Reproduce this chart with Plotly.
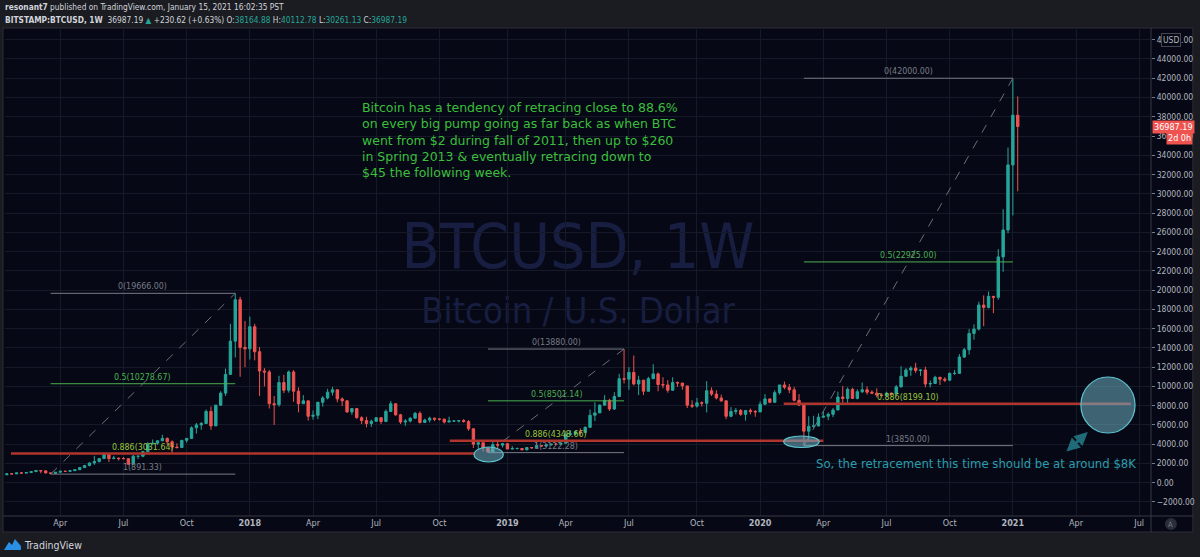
import pandas as pd
import plotly.graph_objects as go

# weekly BITSTAMP:BTCUSD candles, first bar = week of 2017-01-16
first_week = "2017-01-16"
first_open = 820.0

close_2017 = [921, 915, 1016, 998, 1050, 1150, 1270, 1230, 1020, 965, 1090, 1190, 1180, 1245, 1350,
              1570, 1780, 2050, 2200, 2510, 2950, 2500, 2550, 2500, 2500, 1920, 2750, 2750, 3230,
              4050, 4100, 4350, 4600, 4250, 3700, 3650, 4400, 4600, 5700, 6000, 6150, 7400, 5900,
              8050, 9300, 11250, 14700, 19000, 14050, 13900]
high_2017 = [935, 925, 1025, 1065, 1060, 1210, 1290, 1300, 1250, 1060, 1100, 1200, 1210, 1260, 1360,
             1600, 1850, 2100, 2790, 2550, 2980, 2990, 2780, 2600, 2650, 2550, 2900, 2800, 3300,
             4200, 4480, 4400, 4980, 4700, 4400, 4100, 4420, 4620, 5850, 6200, 6300, 7600, 7900,
             8100, 9500, 11850, 16500, 19666, 19300, 16800]
low_2017 = [818, 880, 913, 940, 990, 1050, 1150, 980, 940, 891.33, 920, 1070, 1150, 1180, 1240,
            1340, 1530, 1700, 1850, 2100, 2450, 2150, 2450, 2300, 2470, 1850, 1900, 2450, 2650,
            3200, 3950, 3950, 4300, 3950, 2970, 3550, 3650, 4150, 4550, 5100, 5500, 6100, 5500,
            5900, 8000, 9000, 11200, 13000, 11000, 12000]

close_2018 = [16200, 13600, 11600, 11500, 8200, 8100, 10400, 9600, 11500, 9500, 8200, 8500, 6900,
              7000, 8350, 8800, 9400, 9650, 8700, 8500, 7350, 7700, 6750, 6450, 6150, 6380,
              6750, 6350, 7400, 8200, 7050, 6300, 6400, 6700, 7200, 6250, 6500, 6700, 6600,
              6600, 6300, 6400, 6400, 6450, 6350, 5600, 4000, 4150, 3600, 3200, 3950, 3900, 4050]
high_2018 = [17250, 16500, 14100, 11900, 11700, 9000, 11100, 11200, 11650, 11700, 9900, 9100, 8500,
             7500, 8400, 9000, 9750, 9950, 9650, 8850, 8550, 7750, 7750, 6900, 6850, 6550,
             6800, 6800, 7600, 8500, 8250, 7150, 6600, 6800, 7350, 7400, 6650, 6850, 6750,
             6650, 6650, 6850, 6500, 6500, 6600, 6500, 5600, 4400, 4150, 3600, 4250, 4250, 4100]
low_2018 = [12800, 12700, 9000, 10000, 7700, 6000, 7900, 9300, 9350, 8400, 7300, 8200, 6450,
            6550, 6600, 7900, 8650, 9050, 8350, 7950, 7250, 7050, 6650, 6100, 5750, 5800,
            6350, 6100, 6350, 7400, 6950, 6100, 5900, 6250, 6700, 6150, 6200, 6250, 6400,
            6450, 6150, 6300, 6300, 6250, 6250, 5400, 3600, 3500, 3250, 3122.28, 3150, 3550, 3650]

close_2019 = [3500, 3550, 3550, 3420, 3650, 3620, 3850, 3820, 3930, 4000, 3990, 4100, 5050, 5050,
              5300, 5200, 5750, 7000, 7250, 8050, 8550, 7650, 8950, 10800, 10750, 11450, 10250,
              10650, 9500, 10800, 11300, 10200, 10150, 9600, 10400, 10350, 10050, 8050, 7950,
              8300, 8250, 9550, 9200, 8800, 8500, 6900, 7400, 7500, 7100, 7500, 7400, 7350]
high_2019 = [4100, 3800, 3650, 3550, 3700, 3700, 4200, 3900, 3950, 4050, 4100, 4150, 5350, 5450,
             5400, 5650, 5850, 7600, 8350, 8150, 9100, 8700, 9400, 11300, 13880, 12000, 13200,
             11100, 10650, 11000, 12300, 11450, 10950, 10650, 10950, 10500, 10350, 10050, 8550,
             8800, 8450, 10550, 9900, 9600, 9150, 8550, 7850, 7750, 7650, 7550, 7700, 7550]
low_2019 = [3500, 3450, 3450, 3350, 3350, 3550, 3600, 3700, 3700, 3850, 3900, 3900, 4100, 4900,
            4950, 4900, 5150, 5700, 6400, 7500, 8000, 7450, 7550, 8950, 10300, 9650, 10100,
            9100, 9100, 9450, 11100, 9500, 9800, 9350, 9750, 9950, 9650, 7750, 7750,
            7800, 7900, 7300, 9000, 8650, 8400, 6600, 6800, 7100, 6950, 6450, 7100, 6850]

close_2020 = [8150, 8700, 8350, 9350, 10150, 9900, 9650, 8550, 8050, 5350, 5850, 5900, 6800, 6900,
              7100, 7550, 8900, 8750, 9700, 8750, 9450, 9650, 9400, 9300, 9100, 9050, 9300, 9200,
              9950, 11050, 11700, 11900, 11650, 11700, 10250, 10300, 10950, 10750, 10650, 11350,
              11350, 13050, 13800, 15500, 15950, 18450, 18200, 19350, 19250, 23450, 26250, 33000]
high_2020 = [8450, 9200, 8750, 9600, 10150, 10500, 10250, 9950, 9200, 8150, 6900, 6950, 7200, 7450,
             7300, 7750, 9450, 10050, 9900, 9850, 9700, 10400, 10000, 9600, 9800, 9300, 9450, 9350,
             10150, 12100, 11900, 12100, 12450, 11800, 12050, 10600, 11100, 10950, 10950, 11450,
             11700, 13350, 14000, 15950, 16450, 18800, 19450, 19850, 19400, 24250, 28400, 34800]
low_2020 = [7350, 8050, 8250, 8300, 9150, 9700, 9300, 8450, 8000, 3850, 4450, 5700, 5850, 6750,
            6500, 6800, 7650, 8100, 8200, 8700, 8650, 9300, 9150, 9200, 8850, 8950, 9050, 9050,
            9150, 9900, 11050, 11100, 11400, 11100, 9900, 9900, 10250, 10150, 10450, 10550,
            11200, 11400, 12950, 13300, 14850, 15800, 16250, 18100, 17600, 19000, 21900, 25900]

close_2021 = [38164.88, 36987.19]
high_2021 = [41950, 40112.78]
low_2021 = [27750, 30261.13]

close = close_2017 + close_2018 + close_2019 + close_2020 + close_2021
high = high_2017 + high_2018 + high_2019 + high_2020 + high_2021
low = low_2017 + low_2018 + low_2019 + low_2020 + low_2021
opens = [first_open] + close[:-1]
weeks = pd.date_range(first_week, periods=len(close), freq="7D")

# fib retracements: (start week, end week, low, high)
fibs = [
    ("2017-03-20", "2017-12-11", 891.33, 19666.00),
    ("2018-12-10", "2019-06-24", 3122.28, 13880.00),
    ("2020-03-09", "2021-01-04", 3850.00, 42000.00),
]
fib_levels = [0, 0.5, 0.886, 1]
fib_colors = {0: "#787b86", 0.5: "#4caf50", 0.886: "#9cc43c", 1: "#787b86"}

# red support lines drawn at the 0.886 levels
support_spans = [("2017-01-22", "2018-11-21"), ("2018-10-16", "2020-04-06"), ("2020-02-09", "2021-06-23")]

x_tick_dates = ["2017-04-03", "2017-07-03", "2017-10-02", "2018-01-01", "2018-04-02", "2018-07-02",
                "2018-10-01", "2019-01-07", "2019-04-01", "2019-07-01", "2019-10-07", "2020-01-06",
                "2020-04-06", "2020-07-06", "2020-10-05", "2021-01-04", "2021-04-05", "2021-07-05"]
x_tick_text = ["Apr", "Jul", "Oct", "<b>2018</b>", "Apr", "Jul", "Oct", "<b>2019</b>", "Apr", "Jul",
               "Oct", "<b>2020</b>", "Apr", "Jul", "Oct", "<b>2021</b>", "Apr", "Jul"]

note_text = ("Bitcoin has a tendency of retracing close to 88.6%<br>"
             "on every big pump going as far back as when BTC<br>"
             "went from $2 during fall of 2011, then up to $260<br>"
             "in Spring 2013 &amp; eventually retracing down to<br>"
             "$45 the following week.")
target_text = "So, the retracement this time should be at around $8K"

# ---- layout geometry (pixels of the 1200x557 picture) ----
W, H = 1200, 557
L_PX, R_PX, T_PX, B_PX = 5, 1155, 28, 516
DAY_PX = 0.6967
ANCHOR_DATE, ANCHOR_PX = pd.Timestamp("2018-01-01"), 250.7
USD_PX, ZERO_PX = 0.00963, 482.7

x_range = [ANCHOR_DATE + pd.Timedelta(days=(L_PX - ANCHOR_PX) / DAY_PX),
           ANCHOR_DATE + pd.Timedelta(days=(R_PX - ANCHOR_PX) / DAY_PX)]
y_range = [(ZERO_PX - B_PX) / USD_PX, (ZERO_PX - T_PX) / USD_PX]


def xp(px):
    return (px - L_PX) / (R_PX - L_PX)


def yp(py):
    return (B_PX - py) / (B_PX - T_PX)


BG = "#060915"
PAPER = "#1b1c21"
GRID = "#161a28"
AXIS_TXT = "#b2b5be"
UP, DOWN = "#26a69a", "#ef5350"
NARROW = "DejaVu Sans Condensed, Liberation Sans Narrow, Roboto"

fig = go.Figure()
fig.add_trace(go.Candlestick(
    x=weeks, open=opens, high=high, low=low, close=close,
    increasing=dict(line=dict(color=UP, width=1), fillcolor=UP),
    decreasing=dict(line=dict(color=DOWN, width=1), fillcolor=DOWN),
    whiskerwidth=0, showlegend=False, hoverinfo="skip",
))

shapes = []
annotations = []

# chart panel background + frame
shapes.append(dict(type="rect", xref="paper", yref="paper", x0=xp(3), x1=xp(1197), y0=yp(532), y1=yp(T_PX),
                   fillcolor=BG, line=dict(color="#2a2e39", width=1), layer="below"))
# watermark
shapes.append(dict(type="rect", xref="paper", yref="paper", x0=xp(330), x1=xp(830), y0=yp(275), y1=yp(210),
                   line=dict(width=0), fillcolor="rgba(0,0,0,0)", layer="below",
                   label=dict(text="BTCUSD, 1W", font=dict(family=NARROW, size=62, color="#181e42"),
                              textposition="middle center")))
shapes.append(dict(type="rect", xref="paper", yref="paper", x0=xp(330), x1=xp(830), y0=yp(325), y1=yp(290),
                   line=dict(width=0), fillcolor="rgba(0,0,0,0)", layer="below",
                   label=dict(text="Bitcoin / U.S. Dollar", font=dict(family=NARROW, size=36, color="#181e42"),
                              textposition="middle center")))
# axis column lines
shapes.append(dict(type="line", xref="paper", yref="paper", x0=xp(3), x1=xp(1197), y0=yp(B_PX), y1=yp(B_PX),
                   line=dict(color="#363a45", width=1)))
shapes.append(dict(type="line", xref="paper", yref="paper", x0=1, x1=1, y0=yp(532), y1=yp(T_PX),
                   line=dict(color="#363a45", width=1)))

# fib retracements
for start, end, lo, hi in fibs:
    mid = pd.Timestamp(start) + (pd.Timestamp(end) - pd.Timestamp(start)) / 2
    shapes.append(dict(type="line", x0=start, x1=end, y0=lo, y1=hi,
                       line=dict(color="#6b6e78", width=1, dash="dash")))
    for lv in fib_levels:
        price = hi - lv * (hi - lo)
        shapes.append(dict(type="line", x0=start, x1=end, y0=price, y1=price,
                           line=dict(color=fib_colors[lv], width=1)))
        annotations.append(dict(x=mid, y=price, text=f"{lv:g}({price:.2f})", showarrow=False,
                                xanchor="center", yanchor="bottom",
                                font=dict(family=NARROW, size=8.8, color=fib_colors[lv])))

# red support lines
for (x0, x1), (start, end, lo, hi) in zip(support_spans, fibs):
    price = hi - 0.886 * (hi - lo)
    shapes.append(dict(type="line", x0=x0, x1=x1, y0=price, y1=price,
                       line=dict(color="#b0352c", width=2.5)))

# highlight ellipses
ellipse_style = dict(type="circle", fillcolor="rgba(110,175,195,0.55)", line=dict(color="#5cc3cf", width=1.2))
shapes.append(dict(x0="2018-11-20", x1="2019-01-01", y0=2150, y1=3707, **ellipse_style))
shapes.append(dict(x0="2020-02-09", x1="2020-03-31", y0=3655, y1=4850, **ellipse_style))
shapes.append(dict(x0="2021-04-12", x1="2021-06-29", y0=5161, y1=10976, **ellipse_style))

# double-headed arrow towards the target circle
annotations.append(dict(x="2021-04-22", y=5265, ax="2021-03-20", ay=3084, axref="x", ayref="y",
                        text="", showarrow=True, arrowhead=2, arrowside="end+start",
                        arrowsize=0.9, arrowwidth=3, arrowcolor="#1f6b78"))

# notes
annotations.append(dict(xref="paper", yref="paper", x=xp(361), y=yp(98), xanchor="left", yanchor="top",
                        align="left", text=note_text, showarrow=False,
                        font=dict(family="DejaVu Sans", size=12.5, color="#3bbf3b")))
annotations.append(dict(xref="paper", yref="paper", x=xp(817), y=yp(463), xanchor="left", yanchor="middle",
                        text=target_text, showarrow=False,
                        font=dict(family=NARROW, size=13, color="#2b9dac")))

# header
last_o, last_h, last_l, last_c = opens[-1], high[-1], low[-1], close[-1]
chg = 230.62
hdr1 = "<b>resonant7</b> published on TradingView.com, January 15, 2021 16:02:35 PST"
tc = f"<span style='color:{UP}'>"
hdr2 = (f"<b>BITSTAMP:BTCUSD, 1W</b>  {last_c:.2f} {tc}▲</span> +{chg:.2f} (+{chg / (last_c - chg) * 100:.2f}%) "
        f"O:{tc}{last_o:.2f}</span> H:{tc}{last_h:.2f}</span> L:{tc}{last_l:.2f}</span> C:{tc}{last_c:.2f}</span>")
annotations.append(dict(xref="paper", yref="paper", x=xp(3), y=yp(7.5), xanchor="left", yanchor="middle",
                        text=hdr1, showarrow=False, font=dict(family=NARROW, size=8.3, color="#d1d4dc")))
annotations.append(dict(xref="paper", yref="paper", x=xp(3), y=yp(19.5), xanchor="left", yanchor="middle",
                        text=hdr2, showarrow=False, font=dict(family=NARROW, size=8.3, color="#d1d4dc")))

# price scale extras
annotations.append(dict(xref="paper", yref="y", x=1, y=last_c, xanchor="left", yanchor="middle", xshift=1,
                        text=f"{last_c:.2f}", showarrow=False, bgcolor=DOWN, borderpad=1,
                        font=dict(family=NARROW, size=9, color="#ffffff")))
annotations.append(dict(xref="paper", yref="y", x=xp(1170), y=last_c, xanchor="left", yanchor="middle",
                        yshift=-11, text="2d 0h", showarrow=False, bgcolor=DOWN, borderpad=1,
                        font=dict(family=NARROW, size=9, color="#ffffff")))
annotations.append(dict(xref="paper", yref="paper", x=xp(1175), y=yp(39.5), xanchor="center", yanchor="middle",
                        text="USD", showarrow=False,
                        bgcolor=BG, bordercolor="#434651", borderwidth=1, borderpad=1,
                        font=dict(family=NARROW, size=8.5, color=AXIS_TXT)))
shapes.append(dict(type="circle", xref="paper", yref="paper", x0=xp(1169), x1=xp(1181), y0=yp(530), y1=yp(518),
                   fillcolor="#2a2e39", line=dict(width=0)))
annotations.append(dict(xref="paper", yref="paper", x=xp(1175), y=yp(524), xanchor="center", yanchor="middle",
                        text="A", showarrow=False,
                        font=dict(family=NARROW, size=7.5, color="#787b86")))

# TradingView logo
logo = "M {} {} L {} {} L {} {} L {} {} L {} {} L {} {} Z".format(
    xp(4), yp(550), xp(9), yp(542), xp(12), yp(545), xp(15), yp(539), xp(21), yp(546), xp(21), yp(550))
shapes.append(dict(type="path", xref="paper", yref="paper", path=logo, fillcolor="#2a8fe6", line=dict(width=0)))
annotations.append(dict(xref="paper", yref="paper", x=xp(22), y=yp(545), xanchor="left", yanchor="middle",
                        text="TradingView", showarrow=False,
                        font=dict(family=NARROW, size=10.5, color="#d1d4dc")))

fig.update_layout(
    width=W, height=H, autosize=False,
    margin=dict(l=L_PX, r=W - R_PX, t=T_PX, b=H - B_PX),
    paper_bgcolor=PAPER, plot_bgcolor=BG,
    shapes=shapes, annotations=annotations,
    showlegend=False, hovermode=False,
    xaxis=dict(type="date", range=x_range, rangeslider=dict(visible=False),
               tickvals=x_tick_dates, ticktext=x_tick_text, showgrid=True, gridcolor=GRID,
               showline=False, zeroline=False, ticks="",
               tickfont=dict(family=NARROW, size=9, color=AXIS_TXT)),
    yaxis=dict(side="right", range=y_range, tick0=0, dtick=2000, tickformat=".2f",
               showgrid=True, gridcolor=GRID, zeroline=False, showline=False,
               ticks="outside", ticklen=3, tickcolor="#787b86",
               tickfont=dict(family=NARROW, size=8.5, color=AXIS_TXT)),
)

# the page's default 8px body margin would shift the whole chart
fig.write_html("out.html", config={"displayModeBar": False},
               post_script="document.body.style.margin='0px';")
